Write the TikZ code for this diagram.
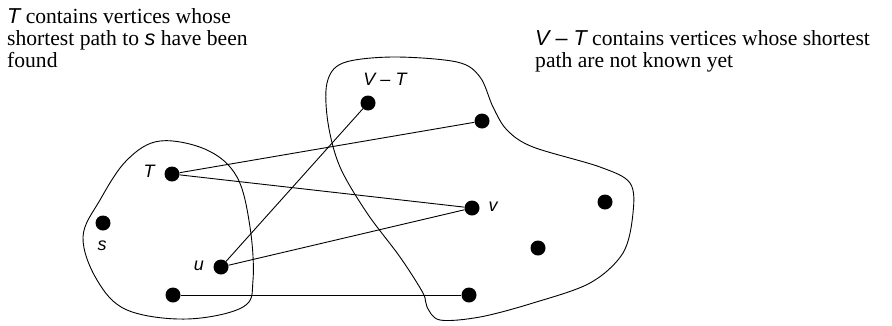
\documentclass[tikz,border=0pt]{standalone}
\usepackage{fontspec}
\setmainfont{Liberation Serif}
\newfontfamily\varfont[Ligatures=TeX]{Liberation Sans}
\usetikzlibrary{positioning}
\newcommand{\mvar}[1]{{\varfont\itshape #1}}

\begin{document}
\begin{tikzpicture}[
    x=1pt, y=-1pt,
    vertex/.style={circle, fill=black, inner sep=0pt, minimum size=15pt},
    vlabel/.style={font=\fontsize{18}{20}\selectfont, inner sep=0pt},
    note/.style={font=\fontsize{21.6}{21.8}\selectfont, align=left, inner sep=0pt, anchor=north west},
    edge/.style={line width=0.9pt},
    region/.style={line width=0.9pt},
]
\useasboundingbox (0,0) rectangle (892,325);

% Notes
\node[note] (tnote) at (7,8.5) {\mvar{T} contains vertices whose\\shortest path to \mvar{s} have been\\found};
\node[note] (vtnote) at (535,30.5) {\mvar{V -- T} contains vertices whose shortest\\path are not known yet};

% Set T
\draw[region] plot[smooth cycle, tension=0.6] coordinates {
    (160,141) (127,160) (100,200) (83,237) (97,280) (127,310) (187,319)
    (243,307) (253,280) (250,227) (237,177) (207,150)};

% Set V - T
\draw[region] plot[smooth cycle, tension=0.55] coordinates {
    (343,63) (393,57) (457,62) (480,77) (493,107) (507,130) (533,147)
    (600,167) (630,183) (633,213) (623,253) (590,283) (533,303) (480,317)
    (440,320) (427,307) (423,293) (400,257) (367,213) (340,167) (328,123)
    (327,83)};

% Vertices in T
\node[vertex] (t) at (172,174) {};
\node[vertex] (s) at (103,223) {};
\node[vertex] (u) at (221,267) {};
\node[vertex] (b) at (173,295) {};

% Vertices in V - T
\node[vertex] (vt) at (368,103) {};
\node[vertex] (r1) at (482,121) {};
\node[vertex] (v) at (472,208) {};
\node[vertex] (r2) at (605,202) {};
\node[vertex] (r3) at (538,248) {};
\node[vertex] (r4) at (469,295) {};

% Labels
\node[vlabel] (tlab) at (149,171) {\mvar{T}};
\node[vlabel] (slab) at (102,246) {\mvar{s}};
\node[vlabel] (ulab) at (199,266) {\mvar{u}};
\node[vlabel] (vtlab) at (385,79) {\mvar{V -- T}};
\node[vlabel] (vlab) at (493,207) {\mvar{v}};

% Edges
\draw[edge] (t) -- (r1);
\draw[edge] (t) -- (v);
\draw[edge] (u) -- (vt);
\draw[edge] (u) -- (v);
\draw[edge] (b) -- (r4);

\end{tikzpicture}
\end{document}
